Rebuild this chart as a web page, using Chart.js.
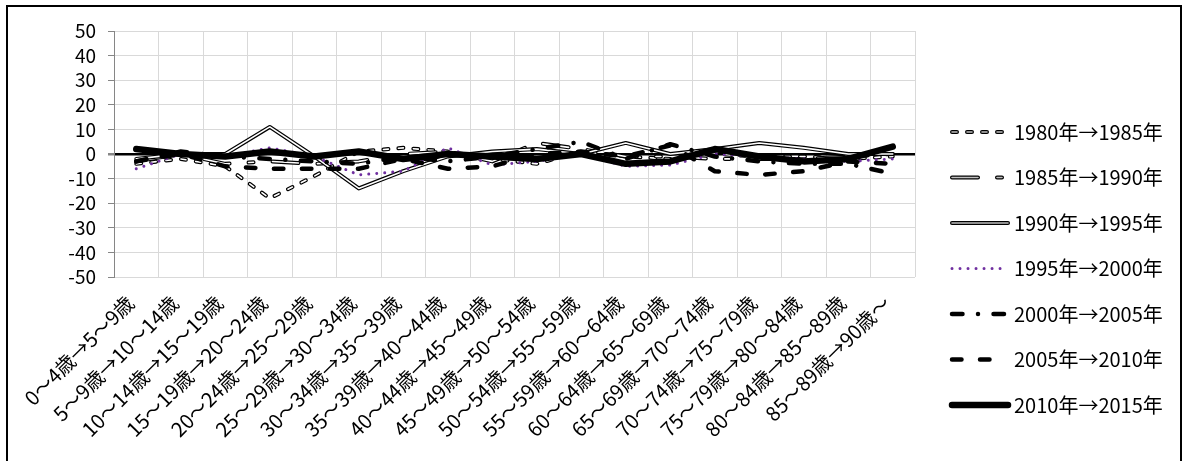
<!DOCTYPE html>
<html>
<head>
<meta charset="utf-8">
<script src="https://cdn.jsdelivr.net/npm/chart.js@4.4.0/dist/chart.umd.min.js"></script>
<style>
  html, body { margin: 0; padding: 0; background: #fff; }
  #wrap { position: absolute; left: 0; top: 0; width: 1184px; height: 461px; }
  #frame { position: absolute; left: 6px; top: 5px; width: 1172px; height: 470px; border: 2px solid #000; pointer-events: none; }
</style>
</head>
<body>
<div id="wrap"><canvas id="chart" width="1184" height="461"></canvas></div>
<div id="frame"></div>
<script>
// categories
const ageLabels = [
  '0～4歳→5～9歳', '5～9歳→10～14歳', '10～14歳→15～19歳', '15～19歳→20～24歳',
  '20～24歳→25～29歳', '25～29歳→30～34歳', '30～34歳→35～39歳', '35～39歳→40～44歳',
  '40～44歳→45～49歳', '45～49歳→50～54歳', '50～54歳→55～59歳', '55～59歳→60～64歳',
  '60～64歳→65～69歳', '65～69歳→70～74歳', '70～74歳→75～79歳', '75～79歳→80～84歳',
  '80～84歳→85～89歳', '85～89歳→90歳～'
];

// series values
const s1980 = [-4, -2, -5, -18, -9, 1, 2.5, 1, -2, -4, 1, -1, -2, 0, -1, -1, -2, -1];
const s1985 = [-3, 0, -4, -3, -4, -3, 0, 1, -3, 4.5, 2, -1, -1, -2, -2, -2, -1, 0];
const s1990 = [-2, 0, 0, 11, -1, -14, -7, -1, 1, 2, 0, 4.5, 0, 2, 4.5, 2.5, 0, 0];
const s1995 = [-6, 0, -1, 2.5, -1, -8.5, -7, 2.5, -4.5, -3, 0, -5, -4.5, 0, -1, -2, -3, -2];
const s2000 = [-3, 1, -1, -2, -3, -4, -1, -3, -1, 2, 5, -2, 4, -1, -3, -4, -4, -8];
const s2005 = [-3, 0, -5, -6, -6, -6, -2, -6, -5, 0, 1, -1, 3.5, -7, -8.5, -7, -3, -4];
const s2010 = [2, 0, -1, 1, -1, 1, -2, 0, -1, -2, 0, -4, -3, 2, -1, -3, -2, 3];

const seriesNames = [
  '1980年→1985年', '1985年→1990年', '1990年→1995年', '1995年→2000年',
  '2000年→2005年', '2005年→2010年', '2010年→2015年'
];

const yMin = -50;
const yMax = 50;
const yStep = 10;

const FONT = '"Noto Sans CJK JP", "Noto Sans", sans-serif';

// line looks, one per series
const looks = [
  { color: '#000', width: 4, dash: [5, 10], inner: true },
  { color: '#000', width: 4, dash: [26, 19, 5, 19], inner: true },
  { color: '#000', width: 4, dash: [], inner: true },
  { color: '#7030a0', width: 3, dash: [0.01, 8], inner: false },
  { color: '#000', width: 4.5, dash: [10.5, 15.5, 0.01, 15.5], inner: false },
  { color: '#000', width: 4.5, dash: [9.5, 18.5], inner: false },
  { color: '#000', width: 6.5, dash: [], inner: false }
];

const allData = [s1980, s1985, s1990, s1995, s2000, s2005, s2010];

const datasets = [];
allData.forEach((vals, i) => {
  const lk = looks[i];
  const order = 100 - i * 10;
  datasets.push({
    label: seriesNames[i],
    data: vals,
    borderColor: lk.color,
    borderWidth: lk.width,
    borderDash: lk.dash,
    borderCapStyle: 'round',
    borderJoinStyle: 'round',
    pointRadius: 0,
    tension: 0,
    fill: false,
    order: order
  });
  if (lk.inner) {
    datasets.push({
      label: seriesNames[i] + '_inner',
      data: vals,
      borderColor: '#fff',
      borderWidth: 1.6,
      borderDash: lk.dash,
      borderCapStyle: 'round',
      borderJoinStyle: 'round',
      pointRadius: 0,
      tension: 0,
      fill: false,
      order: order - 1
    });
  }
});

// legend drawn on the right, line samples like the original
const lineLegend = {
  id: 'lineLegend',
  afterDraw(chart) {
    const ctx = chart.ctx;
    const x0 = 952, x1 = 1008, tx = 1014, y0 = 132, gap = 45.5;
    seriesNames.forEach((name, i) => {
      const lk = looks[i];
      const y = y0 + i * gap;
      ctx.save();
      ctx.lineCap = 'round';
      ctx.setLineDash(lk.dash);
      ctx.lineWidth = lk.width;
      ctx.strokeStyle = lk.color;
      ctx.beginPath();
      ctx.moveTo(x0, y);
      ctx.lineTo(x1, y);
      ctx.stroke();
      if (lk.inner) {
        ctx.lineWidth = 1.6;
        ctx.strokeStyle = '#bfbfbf';
        ctx.stroke();
      }
      ctx.restore();
      ctx.save();
      ctx.fillStyle = '#000';
      ctx.font = '20px ' + FONT;
      ctx.textBaseline = 'middle';
      ctx.textAlign = 'left';
      ctx.fillText(name, tx, y);
      ctx.restore();
    });
  }
};

new Chart(document.getElementById('chart').getContext('2d'), {
  type: 'line',
  data: {
    labels: ageLabels,
    datasets: datasets
  },
  options: {
    responsive: false,
    animation: false,
    layout: { padding: { left: 0, top: 31, right: 269, bottom: 0 } },
    plugins: {
      legend: { display: false },
      tooltip: { enabled: false }
    },
    scales: {
      x: {
        offset: true,
        grid: {
          offset: true,
          color: '#d9d9d9',
          lineWidth: 1,
          drawTicks: false
        },
        border: { display: false },
        ticks: {
          autoSkip: false,
          minRotation: 45,
          maxRotation: 45,
          padding: 14,
          labelOffset: -6,
          color: '#000',
          font: { family: FONT, size: 20 }
        },
        afterFit(scale) { scale.height = 461 - 277; }
      },
      y: {
        min: yMin,
        max: yMax,
        grid: {
          color: ctx => (ctx.tick && ctx.tick.value === 0) ? '#000' : '#d9d9d9',
          lineWidth: ctx => (ctx.tick && ctx.tick.value === 0) ? 2.5 : 1,
          tickColor: '#868686',
          tickLength: 6
        },
        border: { color: '#868686', width: 1 },
        ticks: {
          stepSize: yStep,
          autoSkip: false,
          padding: 12,
          color: '#000',
          font: { family: FONT, size: 19 }
        },
        afterFit(scale) { scale.width = 114; }
      }
    }
  },
  plugins: [lineLegend]
});
</script>
</body>
</html>
